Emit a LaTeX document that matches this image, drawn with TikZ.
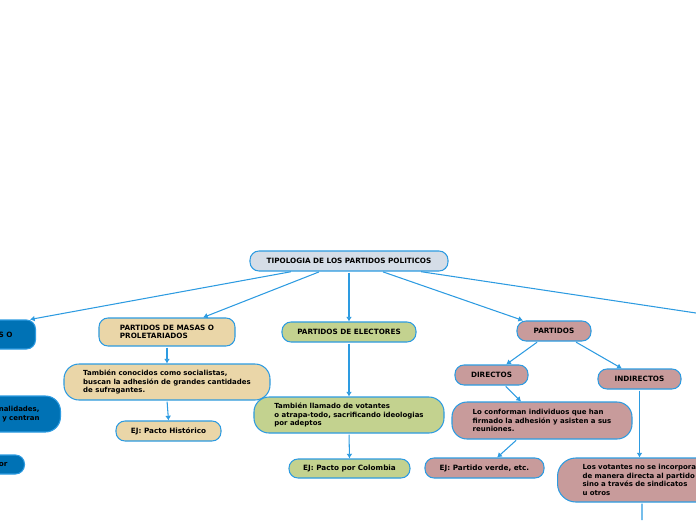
\documentclass[tikz,border=0pt]{standalone}
\usepackage{fontspec}
\setmainfont{DejaVu Sans}
\usetikzlibrary{arrows.meta}

\definecolor{linea}{RGB}{45,155,225}
\definecolor{gris}{RGB}{213,221,231}
\definecolor{arena}{RGB}{234,214,168}
\definecolor{oliva}{RGB}{195,210,143}
\definecolor{rosa}{RGB}{200,155,155}
\definecolor{azul}{RGB}{0,114,181}

\tikzset{
  caja/.style={draw=linea, line width=0.9pt, rounded corners=0.27cm, inner sep=0pt,
    align=left, font=\fontsize{6.2}{7.4}\selectfont\bfseries},
  grande/.style={rounded corners=0.45cm, font=\fontsize{5.95}{7.4}\selectfont\bfseries},
  flecha/.style={draw=linea, line width=0.9pt, -{Latex[length=4pt,width=5pt]}, shorten <=1pt},
  rama/.style={draw=linea, line width=0.9pt, shorten <=1pt},
}

\begin{document}
\begin{tikzpicture}[x=0.03cm,y=-0.03cm]
  \useasboundingbox (0,0) rectangle (696,520);
  % raiz
  \node[caja, fill=gris, minimum width=5.94cm, minimum height=0.6cm] (raiz) at (349,261) {TIPOLOGIA DE LOS PARTIDOS POLITICOS};

  % ramas cortadas a la izquierda
  \node[caja, fill=azul, anchor=east, minimum height=0.87cm, text width=2cm, align=right, inner xsep=0.69cm] (cuadros) at (36,334.5) {S O};
  \node[caja, grande, fill=azul, anchor=east, minimum height=1.08cm, text width=2cm, align=right, inner xsep=0.63cm] (cuadrosdesc) at (61,414) {nalidades,\\ y centran};
  \node[caja, fill=azul, anchor=east, minimum height=0.57cm, text width=2cm, align=right, inner xsep=0.51cm] (cuadrosej) at (25,464.5) {or};

  % masas
  \node[caja, fill=arena, minimum width=4.08cm, minimum height=0.84cm] (masas) at (167,332) {PARTIDOS DE MASAS O\\ PROLETARIADOS};
  \node[caja, grande, fill=arena, minimum width=6.18cm, minimum height=1.08cm] (masasdesc) at (167,382) {También conocidos como socialistas,\\ buscan la adhesión de grandes cantidades\\ de sufragantes.};
  \node[caja, fill=arena, minimum width=3.15cm, minimum height=0.6cm] (masasej) at (168.5,431) {EJ: Pacto Histórico};

  % electores
  \node[caja, fill=oliva, minimum width=4.02cm, minimum height=0.6cm] (electores) at (349,332) {PARTIDOS DE ELECTORES};
  \node[caja, grande, fill=oliva, minimum width=5.7cm, minimum height=1.08cm] (electdesc) at (349,415) {También llamado de votantes\\ o atrapa-todo, sacrificando ideologias\\ por adeptos};
  \node[caja, fill=oliva, minimum width=3.63cm, minimum height=0.57cm] (electej) at (349.5,468.5) {EJ: Pacto por Colombia};

  % partidos
  \node[caja, fill=rosa, minimum width=2.22cm, minimum height=0.6cm] (partidos) at (554,331) {PARTIDOS};
  \node[caja, fill=rosa, minimum width=2.19cm, minimum height=0.6cm] (directos) at (491.5,375) {DIRECTOS};
  \node[caja, fill=rosa, minimum width=2.49cm, minimum height=0.6cm] (indirectos) at (639.5,379) {INDIRECTOS};
  \node[caja, grande, fill=rosa, minimum width=5.4cm, minimum height=1.11cm] (directdesc) at (542,420.5) {Lo conforman individuos que han\\ firmado la adhesión y asisten a sus\\ reuniones.};
  \node[caja, fill=rosa, minimum width=3.57cm, minimum height=0.6cm] (directej) at (484.5,468) {EJ: Partido verde, etc.};
  \node[caja, grande, fill=rosa, anchor=west, minimum height=1.32cm, text width=3.6cm, inner xsep=0.75cm, rounded corners=0.55cm] (indirdesc) at (557,480) {Los votantes no se incorpora\\ de manera directa al partido\\ sino a través de sindicatos\\ u otros};

  \coordinate (derecha) at (696,313);
  \coordinate (abajo) at (642,520);

  % conectores
  \draw[flecha] ([xshift=-1.71cm]raiz.south) -- ([xshift=-0.18cm]cuadros.north east);
  \draw[flecha] ([xshift=-0.87cm]raiz.south) -- ([xshift=1.08cm]masas.north);
  \draw[flecha] (raiz.south) -- (electores.north);
  \draw[flecha] ([xshift=0.99cm]raiz.south) -- ([xshift=-0.93cm]partidos.north);
  \draw[rama] ([xshift=2.13cm]raiz.south) -- (derecha);
  \draw[flecha] (masas.south) -- (masasdesc.north);
  \draw[flecha] (masasdesc.south) -- (masasej.north);
  \draw[flecha] (electores.south) -- (electdesc.north);
  \draw[flecha] (electdesc.south) -- (electej.north);
  \draw[flecha] ([xshift=-0.48cm]partidos.south) -- ([xshift=0.44cm]directos.north);
  \draw[flecha] ([xshift=0.63cm]partidos.south) -- ([xshift=-0.53cm]indirectos.north);
  \draw[flecha] ([xshift=0.4cm]directos.south) -- ([xshift=-0.63cm]directdesc.north);
  \draw[flecha] ([xshift=-0.75cm]directdesc.south) -- ([xshift=0.38cm]directej.north);
  \draw[flecha] (indirectos.south) -- (indirectos.south |- indirdesc.north);
  \draw[rama] ([xshift=2.55cm]indirdesc.south west) -- (abajo);
\end{tikzpicture}
\end{document}
